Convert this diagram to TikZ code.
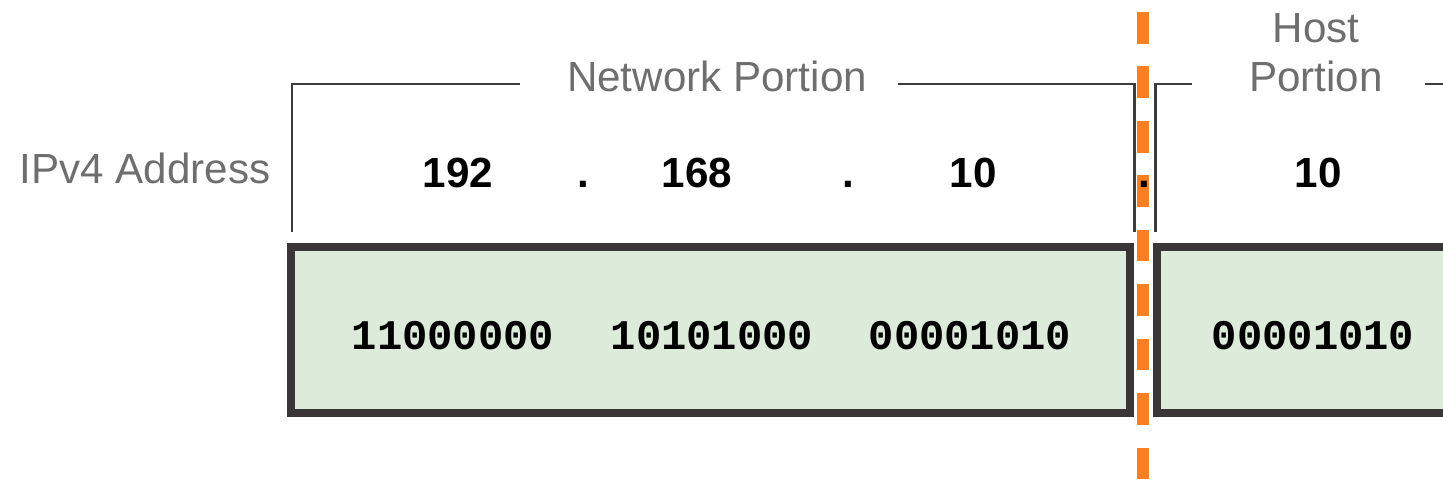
\documentclass[tikz,border=0pt]{standalone}
\usepackage{fontspec}
\setmainfont{Liberation Sans}
\newfontfamily\bitfont{Liberation Mono}
\usepackage{xcolor}
\usepackage{tikz}
\usetikzlibrary{positioning}

\definecolor{labelgray}{HTML}{6E6E6E}
\definecolor{bracketgray}{HTML}{3C3C3C}
\definecolor{fieldborder}{HTML}{3A3637}
\definecolor{fieldgreen}{HTML}{DCEBDA}
\definecolor{splitorange}{HTML}{F58025}

\begin{document}
\begin{tikzpicture}[x=0.02cm, y=-0.02cm,
    caption/.style={text=labelgray, font=\fontsize{24}{29}\selectfont, inner sep=0pt, anchor=base},
    octet/.style={font=\fontsize{24}{29}\selectfont\bfseries, inner sep=0pt, anchor=base},
    bits/.style={font=\bitfont\fontsize{24}{29}\selectfont\bfseries, inner sep=0pt, anchor=base},
    bracket/.style={draw=bracketgray, line width=1.7pt},
    field/.style={draw=fieldborder, fill=fieldgreen, line width=4.5pt},
    split/.style={draw=splitorange, line width=6.8pt, dash pattern=on 18pt off 13pt}]
        \clip (0, 0) rectangle (1443, 482);

        % labels
        \node[caption] (addr) at (145, 184) {IPv4 Address};
        \node[caption] (netpart) at (717, 92) {Network Portion};
        \node[caption] (hostpart) at (1316, 43) {Host};
        \node[caption] (hostpart2) at (1316, 92) {Portion};

        % brackets
        \draw[bracket] (292, 232) -- (292, 84) -- (520, 84);
        \draw[bracket] (898, 84) -- (1134, 84) -- (1134, 232);
        \draw[bracket] (1155, 232) -- (1155, 84) -- (1192, 84);
        \draw[bracket] (1425, 84) -- (1460, 84);

        % binary fields
        \draw[field] (291, 247) rectangle (1130, 413);
        \draw[field] (1157, 247) rectangle (1470, 413);
        \node[bits] (bin1) at (453, 350) {11000000};
        \node[bits] (bin2) at (712, 350) {10101000};
        \node[bits] (bin3) at (970, 350) {00001010};
        \node[bits] (bin4) at (1313, 350) {00001010};

        % network / host split
        \draw[split] (1143, 12) -- (1143, 490);

        % dotted decimal
        \node[octet] (oct1) at (458, 188) {192};
        \node[octet] (dot1) at (583, 188) {.};
        \node[octet] (oct2) at (697, 188) {168};
        \node[octet] (dot2) at (848, 188) {.};
        \node[octet] (oct3) at (973, 188) {10};
        \node[octet] (dot3) at (1144, 188) {.};
        \node[octet] (oct4) at (1318, 188) {10};
\end{tikzpicture}
\end{document}
